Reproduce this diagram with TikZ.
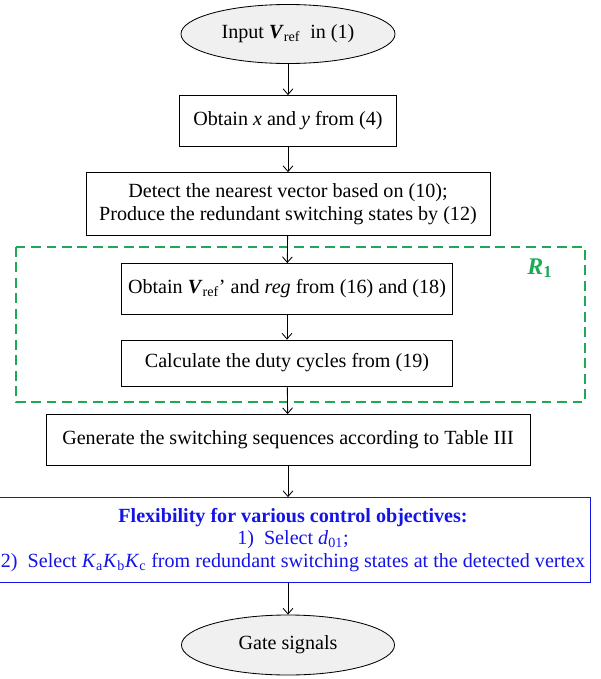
\documentclass[tikz,border=0pt]{standalone}
\usepackage{fontspec}
\setmainfont{Liberation Serif}
\usetikzlibrary{positioning}
\usetikzlibrary{shapes}
\usetikzlibrary{arrows.meta}
\usepackage{xcolor}
\definecolor{flexblue}{RGB}{20,20,230}
\definecolor{regiongreen}{RGB}{30,170,85}
\definecolor{termgray}{RGB}{240,240,240}

\begin{document}
\begin{tikzpicture}[x=0.025cm, y=-0.025cm, every node/.style={font=\fontsize{14.3}{16}\selectfont, inner sep=0pt},
    term/.style={ellipse, draw, fill=termgray, line width=0.6pt},
    proc/.style={rectangle, draw, line width=0.6pt, align=center},
    flow/.style={-{Straight Barb[length=4pt, width=7pt]}, line width=0.6pt}]
        \useasboundingbox (0, 0) rectangle (600, 679);

        \node[term, minimum width=5.35cm, minimum height=1.475cm] (in) at (288, 34) {Input \textbf{\textit{V}}\textsubscript{ref}\ \ in (1)};
        \node[proc, minimum width=5.425cm, minimum height=1.275cm] (xy) at (288, 121) {Obtain \textit{x} and \textit{y} from (4)};
        \node[proc, minimum width=10.1cm, minimum height=1.575cm] (near) at (288, 204) {Detect the nearest vector based on (10);\\Produce the redundant switching states by (12)};
        \node[proc, minimum width=8.275cm, minimum height=1.275cm] (reg) at (287, 289) {Obtain \textbf{\textit{V}}\textsubscript{ref}' and \textit{reg} from (16) and (18)};
        \node[proc, minimum width=8.275cm, minimum height=1.15cm] (duty) at (287, 363) {Calculate the duty cycles from (19)};
        \node[proc, minimum width=12.1cm, minimum height=1.275cm] (seq) at (288, 440) {Generate the switching sequences according to Table III};
        \node[proc, draw=flexblue, text=flexblue, minimum width=14.85cm, minimum height=2.125cm] (flex) at (293, 540) {\textbf{Flexibility for various control objectives:}\\1)\ \ Select \textit{d}\textsubscript{01};\\2)\ \ Select \textit{K}\textsubscript{a}\textit{K}\textsubscript{b}\textit{K}\textsubscript{c} from redundant switching states at the detected vertex};
        \node[term, minimum width=5.325cm, minimum height=1.5cm] (out) at (288, 645) {Gate signals};

        \draw[regiongreen, dashed, dash pattern=on 7pt off 4pt, line width=1.4pt] (16, 247) rectangle (585, 402);
        \node[text=regiongreen, font=\fontsize{17}{18}\selectfont\bfseries\itshape] (r1) at (540, 268) {R\textsubscript{\upshape 1}};

        \draw[flow] (in) -- (xy);
        \draw[flow] (xy) -- (near);
        \draw[flow] (near) -- (reg);
        \draw[flow] (reg) -- (duty);
        \draw[flow] (duty) -- (seq);
        \draw[flow] (seq) -- (seq |- flex.north);
        \draw[flow] (seq |- flex.south) -- (out);
    \end{tikzpicture}
\end{document}
